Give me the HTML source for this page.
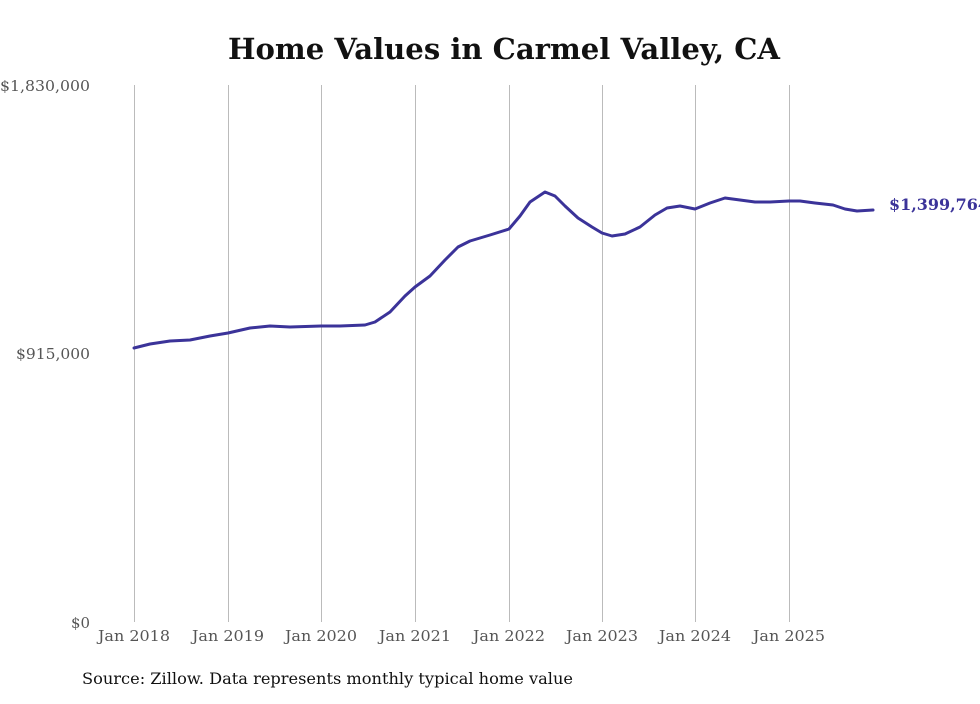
<!DOCTYPE html>
<html><head><style>
body{margin:0;background:#fff;}
svg text{font-family:"DejaVu Serif","Liberation Serif",serif;}
</style></head><body>
<svg width="980" height="699" xmlns="http://www.w3.org/2000/svg">
<text x="228" y="59" font-size="29" font-weight="bold" fill="#111" textLength="552" lengthAdjust="spacingAndGlyphs">Home Values in Carmel Valley, CA</text>
<g stroke="#bbb" stroke-width="1">
<line x1="134.5" y1="85" x2="134.5" y2="622"/><line x1="228.5" y1="85" x2="228.5" y2="622"/>
<line x1="321.5" y1="85" x2="321.5" y2="622"/><line x1="415.5" y1="85" x2="415.5" y2="622"/>
<line x1="509.5" y1="85" x2="509.5" y2="622"/><line x1="602.5" y1="85" x2="602.5" y2="622"/>
<line x1="695.5" y1="85" x2="695.5" y2="622"/><line x1="789.5" y1="85" x2="789.5" y2="622"/>
</g>
<g font-size="15" fill="#555">
<text x="0" y="91" textLength="90" lengthAdjust="spacingAndGlyphs">$1,830,000</text>
<text x="16" y="359" textLength="74" lengthAdjust="spacingAndGlyphs">$915,000</text>
<text x="71" y="628" textLength="19" lengthAdjust="spacingAndGlyphs">$0</text>
</g>
<g font-size="15" fill="#555">
<text x="98" y="641" textLength="72" lengthAdjust="spacingAndGlyphs">Jan 2018</text>
<text x="192" y="641" textLength="72" lengthAdjust="spacingAndGlyphs">Jan 2019</text>
<text x="285" y="641" textLength="72" lengthAdjust="spacingAndGlyphs">Jan 2020</text>
<text x="379" y="641" textLength="72" lengthAdjust="spacingAndGlyphs">Jan 2021</text>
<text x="473" y="641" textLength="72" lengthAdjust="spacingAndGlyphs">Jan 2022</text>
<text x="566" y="641" textLength="72" lengthAdjust="spacingAndGlyphs">Jan 2023</text>
<text x="659" y="641" textLength="72" lengthAdjust="spacingAndGlyphs">Jan 2024</text>
<text x="753" y="641" textLength="72" lengthAdjust="spacingAndGlyphs">Jan 2025</text>
</g>
<polyline fill="none" stroke="#3b3399" stroke-width="3" stroke-linejoin="round" stroke-linecap="round" points="134,348 150,344 170,341 190,340 210,336 228,333 250,328 270,326 290,327 321,326 340,326 365,325 375,322 390,312 405,296 415,287 430,276 445,260 458,247 470,241 490,235 509,229 520,216 530,202 545,192 555,196 565,206 578,218 592,227 602,233 612,236 625,234 640,227 655,215 667,208 680,206 695,209 710,203 725,198 740,200 755,202 770,202 789,201 800,201 815,203 833,205 845,209 857,211 873,210"/>
<text x="889" y="210" font-size="16" font-weight="bold" fill="#3b3399" textLength="100" lengthAdjust="spacingAndGlyphs">$1,399,764</text>
<text x="82" y="684" font-size="16" fill="#111" textLength="491" lengthAdjust="spacingAndGlyphs">Source: Zillow. Data represents monthly typical home value</text>
</svg>
</body></html>
